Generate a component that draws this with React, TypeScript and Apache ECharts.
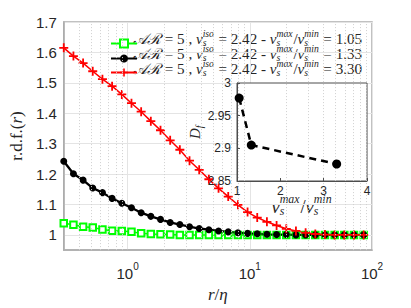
import { useEffect, useRef } from 'react';
import * as echarts from 'echarts';

// ---------------- data ----------------
const rValues = [0.3, 0.36, 0.432, 0.518, 0.622, 0.746, 0.896, 1.075, 1.29, 1.548, 1.858, 2.229, 2.675, 3.21, 3.852, 4.622, 5.547, 6.656, 7.988, 9.585, 11.5, 13.8, 16.56, 19.88, 23.85, 28.62, 34.35, 41.22, 49.46, 59.35, 71.22, 85.47];
const rdf105 = [1.038, 1.033, 1.027, 1.024, 1.018, 1.014, 1.013, 1.010, 1.005, 1.003, 1.002, 1.001, 1.000, 1.000, 1.000, 1.000, 1.000, 1.000, 1.000, 1.000, 1.000, 1.000, 1.000, 1.000, 1.000, 1.000, 1.000, 1.000, 1.000, 1.000, 1.000, 1.000];
const rdf133 = [1.242, 1.201, 1.180, 1.154, 1.139, 1.120, 1.104, 1.089, 1.073, 1.061, 1.051, 1.041, 1.034, 1.027, 1.021, 1.017, 1.013, 1.010, 1.007, 1.005, 1.004, 1.002, 1.001, 1.001, 1.000, 1.000, 1.000, 1.000, 1.000, 1.000, 1.000, 1.000];
const rdf330 = [1.615, 1.588, 1.565, 1.538, 1.512, 1.489, 1.462, 1.433, 1.405, 1.374, 1.344, 1.311, 1.280, 1.244, 1.214, 1.183, 1.153, 1.126, 1.099, 1.075, 1.057, 1.043, 1.031, 1.020, 1.013, 1.007, 1.003, 1.001, 1.000, 1.000, 1.000, 1.000];
const ratioLabels = ['1.05', '1.33', '3.30'];
const insetRatios = [1.05, 1.33, 3.30];
const insetDf = [2.977, 2.905, 2.876];
const minorXTicks = [0.4, 0.5, 0.6, 0.7, 0.8, 0.9, 2, 3, 4, 5, 6, 7, 8, 9, 20, 30, 40, 50, 60, 70, 80, 90];
const seriesColors = ['#00ff00', '#000000', '#ff0000'];

// ---------------- math text helper ----------------
const SERIF = 'Liberation Serif';
const SANS = 'Liberation Sans';
type Kind = 'rm' | 'it' | 'cal' | 'sub' | 'sup';
type Tok = [string, Kind];
const SCRIPT = 0.64;

let measureCtx: CanvasRenderingContext2D | null = null;
function measure(text: string, size: number, italic: boolean) {
  if (!measureCtx) measureCtx = document.createElement('canvas').getContext('2d');
  measureCtx!.font = `${italic ? 'italic ' : ''}${size}px "${SERIF}"`;
  return measureCtx!.measureText(text).width;
}

function mathLayout(tokens: Tok[], size: number, color: string, x0 = 0) {
  const children: any[] = [];
  let x = x0;
  let i = 0;
  while (i < tokens.length) {
    const kind = tokens[i][1];
    if (kind === 'sub' || kind === 'sup') {
      let w = 0;
      let j = i;
      while (j < tokens.length && j < i + 2 && (tokens[j][1] === 'sub' || tokens[j][1] === 'sup')) {
        const [t, k] = tokens[j];
        const s = size * SCRIPT;
        w = Math.max(w, measure(t, s, true));
        children.push({
          type: 'text', x, y: k === 'sup' ? -size * 0.36 : size * 0.28,
          style: { text: t, fontSize: s, fontStyle: 'italic', fontFamily: SERIF, fill: color, align: 'left', verticalAlign: 'middle' },
        });
        j++;
      }
      x += w + size * 0.05;
      i = j;
    } else {
      const [t] = tokens[i];
      const italic = kind === 'it' || kind === 'cal';
      const w = measure(t, size, italic);
      children.push({
        type: 'text', x, y: 0,
        style: { text: t, fontSize: size, fontStyle: italic ? 'italic' : 'normal', fontFamily: SERIF, fill: color, align: 'left', verticalAlign: 'middle' },
      });
      x += w;
      i++;
    }
  }
  return { children, width: x - x0 };
}

function fitMath(tokens: Tok[], targetWidth: number, color: string) {
  const base = 12;
  const w0 = mathLayout(tokens, base, color).width;
  return base * targetWidth / w0;
}

function legendTokens(ratio: string): Tok[] {
  return [
    ['𝒜ℛ', 'cal'], [' = 5 , ', 'rm'], ['v', 'it'], ['s', 'sub'], ['iso', 'sup'],
    [' = 2.42 - ', 'rm'], ['v', 'it'], ['s', 'sub'], ['max', 'sup'], ['/', 'rm'],
    ['v', 'it'], ['s', 'sub'], ['min', 'sup'], [' = ' + ratio, 'rm'],
  ];
}

export default function App() {
  const ref = useRef<HTMLDivElement>(null);
  useEffect(() => {
    if (!ref.current) return;
    const chart = echarts.init(ref.current, null, { renderer: 'svg' });
    const textColor = '#262626';
    const spine = '#adadad';

    const seriesNames = ratioLabels.map((r) => 'AR5_' + r);
    const mainData = [rdf105, rdf133, rdf330].map((arr) => arr.map((v, i) => [rValues[i], v]));

    const legendRows = [38.5, 53.5, 68.5];
    const graphics: any[] = [];
    ratioLabels.forEach((r, idx) => {
      const toks = legendTokens(r);
      const size = fitMath(toks, 229, textColor);
      const lay = mathLayout(toks, size, textColor);
      graphics.push({ type: 'group', x: 133, y: legendRows[idx], z: 20, children: lay.children });
    });
    const xlToks: Tok[] = [['v', 'it'], ['s', 'sub'], ['max', 'sup'], ['/', 'rm'], ['v', 'it'], ['s', 'sub'], ['min', 'sup']];
    const xlSize = fitMath(xlToks, 61, textColor);
    const xlW = mathLayout(xlToks, xlSize, textColor).width;
    const xl = mathLayout(xlToks, xlSize, textColor, -xlW / 2);
    graphics.push({ type: 'group', x: 302, y: 206, z: 20, children: xl.children });
    const dToks: Tok[] = [['D', 'it'], ['f', 'sub']];
    const dW = mathLayout(dToks, 15, textColor).width;
    const dl = mathLayout(dToks, 15, textColor, -dW / 2);
    graphics.push({ type: 'group', x: 195, y: 132, rotation: Math.PI / 2, z: 20, children: dl.children });

    const plusPath = 'path://M4,0H6V4H10V6H6V10H4V6H0V4H4Z';

    chart.setOption({
      animation: false,
      backgroundColor: '#ffffff',
      grid: [
        { left: 54, right: 39, top: 22, bottom: 55, show: true, borderColor: spine, borderWidth: 1.5, backgroundColor: 'transparent' },
        { left: 237, right: 44, top: 83, bottom: 127, show: true, borderColor: '#4d4d4d', borderWidth: 1, backgroundColor: '#ffffff', z: 5 },
      ],
      legend: {
        orient: 'vertical', left: 105, top: 33.5, itemWidth: 26, itemHeight: 10, itemGap: 5,
        formatter: () => '', textStyle: { fontSize: 8 },
        data: seriesNames, selectedMode: false,
      },
      xAxis: [
        {
          type: 'log', logBase: 10, min: 0.3, max: 100, gridIndex: 0,
          axisLine: { show: true, lineStyle: { color: spine, width: 1.5 } },
          axisTick: { show: false },
          splitLine: { show: true, lineStyle: { color: '#e4e4e4', width: 1 } },
          axisLabel: {
            margin: 11, color: textColor,
            formatter: (v: number) => {
              const l = Math.log10(v);
              const e = Math.round(l);
              if (Math.abs(l - e) > 1e-6) return '';
              return `{b|10}{s|${e}}`;
            },
            rich: {
              b: { fontSize: 15, fontFamily: SANS, color: textColor, lineHeight: 20, verticalAlign: 'bottom' },
              s: { fontSize: 10, fontFamily: SANS, color: textColor, lineHeight: 12, verticalAlign: 'top' },
            },
          },
          name: '{b|r}{a|/}{b|η}', nameLocation: 'middle', nameGap: 26,
          nameTextStyle: {
            rich: {
              a: { fontSize: 17, fontFamily: SERIF, color: textColor },
              b: { fontSize: 17, fontFamily: SERIF, fontStyle: 'italic', color: textColor },
            },
          },
        },
        {
          type: 'value', min: 1, max: 4, interval: 1, gridIndex: 1, z: 6,
          axisLine: { show: true, lineStyle: { color: '#4d4d4d', width: 1 } },
          axisTick: { show: true, inside: true, length: 3, lineStyle: { color: '#4d4d4d' } },
          splitLine: { show: false },
          axisLabel: { margin: 4, color: textColor, fontSize: 12, fontFamily: SANS },
        },
      ],
      yAxis: [
        {
          type: 'value', min: 0.95, max: 1.7, interval: 0.05, gridIndex: 0,
          axisLine: { show: true, lineStyle: { color: spine, width: 1.5 } },
          axisTick: { show: false },
          splitLine: { show: true, lineStyle: { color: ['rgba(0,0,0,0)', '#e4e4e4'], width: 1 } },
          axisLabel: {
            margin: 7, color: textColor, fontSize: 15, fontFamily: SANS,
            formatter: (v: number) => {
              const k = Math.round(v * 100);
              if (k % 10 !== 0) return '';
              return String(k / 100);
            },
          },
          name: '{a|r.d.f.(}{b|r}{a|)}', nameLocation: 'middle', nameGap: 30, nameRotate: 90,
          nameTextStyle: {
            rich: {
              a: { fontSize: 17, fontFamily: SERIF, color: textColor },
              b: { fontSize: 17, fontFamily: SERIF, fontStyle: 'italic', color: textColor },
            },
          },
        },
        {
          type: 'value', min: 2.85, max: 3, interval: 0.05, gridIndex: 1, z: 6,
          axisLine: { show: true, lineStyle: { color: '#4d4d4d', width: 1 } },
          axisTick: { show: true, inside: true, length: 3, lineStyle: { color: '#4d4d4d' } },
          splitLine: { show: false },
          axisLabel: { margin: 6, color: textColor, fontSize: 12, fontFamily: SANS },
        },
      ],
      series: [
        {
          type: 'line', xAxisIndex: 0, yAxisIndex: 0, data: [], silent: true, z: 1,
          markLine: {
            silent: true, symbol: ['none', 'none'], label: { show: false }, animation: false,
            lineStyle: { color: '#d0d0d0', type: [1, 2], width: 1 },
            data: minorXTicks.map((v) => ({ xAxis: v })),
          },
        },
        {
          name: seriesNames[0], type: 'line', xAxisIndex: 0, yAxisIndex: 0, data: mainData[0],
          symbol: 'emptyRect', symbolSize: 6.5, showSymbol: true,
          lineStyle: { color: seriesColors[0], width: 1.5 },
          itemStyle: { color: seriesColors[0], borderColor: seriesColors[0], borderWidth: 1.2 },
        },
        {
          name: seriesNames[1], type: 'line', xAxisIndex: 0, yAxisIndex: 0, data: mainData[1],
          symbol: 'circle', symbolSize: 7,
          lineStyle: { color: seriesColors[1], width: 2.3 },
          itemStyle: { color: seriesColors[1] },
        },
        {
          name: seriesNames[2], type: 'line', xAxisIndex: 0, yAxisIndex: 0, data: mainData[2],
          symbol: plusPath, symbolSize: 9,
          lineStyle: { color: seriesColors[2], width: 1.5 },
          itemStyle: { color: seriesColors[2] },
        },
        {
          type: 'line', xAxisIndex: 1, yAxisIndex: 1, z: 10,
          data: insetRatios.map((v, i) => [v, insetDf[i]]),
          symbol: 'circle', symbolSize: 9,
          lineStyle: { color: '#000', width: 2.5, type: [7, 5] },
          itemStyle: { color: '#000' },
        },
      ],
      graphic: graphics,
    });
    return () => chart.dispose();
  }, []);
  return <div ref={ref} style={{ width: 411, height: 308, position: 'absolute', left: 0, top: 0 }} />;
}
